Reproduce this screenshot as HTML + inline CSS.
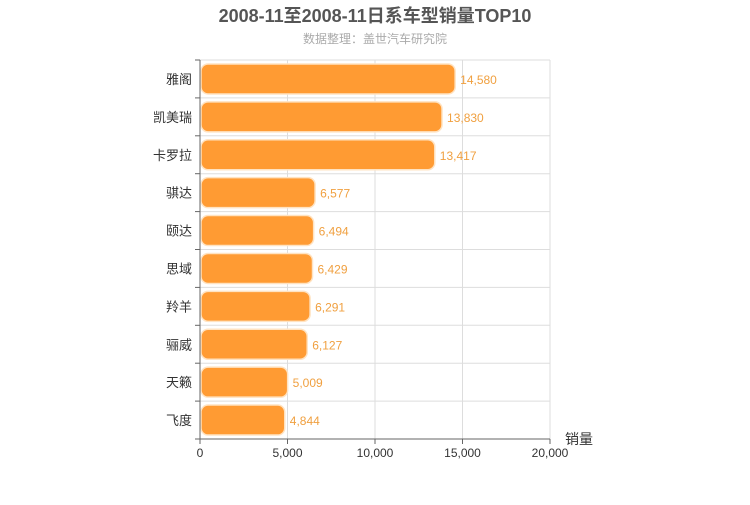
<!DOCTYPE html>
<html><head><meta charset="utf-8"><style>
body{margin:0;background:#fff;font-family:"Liberation Sans","Noto Sans CJK SC",sans-serif;}
</style></head><body>
<svg width="750" height="500" id="c" style="font-family:'Liberation Sans','Noto Sans CJK SC',sans-serif">
<text x="375" y="22" text-anchor="middle" font-size="18" font-weight="bold" fill="#555">2008-11至2008-11日系车型销量TOP10</text>
<text x="375" y="43" text-anchor="middle" font-size="12" fill="#aaa">数据整理：盖世汽车研究院</text>
<g id="grid"></g><g id="bars"></g><g id="axes"></g>
</svg>
<script>
const categories=["雅阁","凯美瑞","卡罗拉","骐达","颐达","思域","羚羊","骊威","天籁","飞度"];
const values=[14580,13830,13417,6577,6494,6429,6291,6127,5009,4844];
const ticks=[0,5000,10000,15000,20000];
const tickLabels=["0","5,000","10,000","15,000","20,000"];
const X0=200,X1=550,Y0=60,Y1=439,MAX=20000;
const ns="http://www.w3.org/2000/svg";
const x=v=>X0+(X1-X0)*v/MAX;
const rowH=(Y1-Y0)/categories.length;
function mk(t,a,p,txt){const e=document.createElementNS(ns,t);for(const k in a)e.setAttribute(k,a[k]);if(txt!==undefined)e.textContent=txt;p.appendChild(e);return e;}
const g=document.getElementById('grid'),b=document.getElementById('bars'),ax=document.getElementById('axes');
ticks.forEach((t,i)=>{
  const l=mk('line',{x1:x(t),x2:x(t),y1:Y0,y2:Y1,stroke:'#ddd'},g);
  
  
  const tk=mk('line',{x1:x(t),x2:x(t),y1:Y1,y2:Y1+5,stroke:'#666'},ax);
  
  
  const tx=mk('text',{x:x(t),y:Y1+18,'text-anchor':'middle','font-size':12,fill:'#333'},ax,tickLabels[i]);
  
  
});
for(let i=0;i<=categories.length;i++){
  const y=Y0+i*rowH;
  const l=mk('line',{x1:X0,x2:X1,y1:y,y2:y,stroke:'#ddd'},g);
  
  
  const tk=mk('line',{x1:X0-5,x2:X0,y1:y,y2:y,stroke:'#666'},ax);
  
  
}
categories.forEach((c,i)=>{
  const yc=Y0+(i+0.5)*rowH;
  const r=mk('rect',{x:X0+1,y:yc-15,width:x(values[i])-X0-1,height:30,rx:7,fill:'#ff9b33',stroke:'#ffe3c2','stroke-width':1.5},b);
  
  
  const v=mk('text',{x:x(values[i])+5,y:yc+5,'font-size':12,fill:'#f0a040'},b,values[i].toLocaleString('en-US'));
  
  
  const t=mk('text',{x:X0-8,y:yc+5,'text-anchor':'end','font-size':13,fill:'#333'},ax,c);
  
  
});
const ya=mk('line',{x1:X0,x2:X0,y1:Y0,y2:Y1,stroke:'#666'},ax);


const xa=mk('line',{x1:X0,x2:X1,y1:Y1,y2:Y1,stroke:'#666'},ax);


const xt=mk('text',{x:565,y:444,'font-size':14,fill:'#333'},ax,'销量');


</script>
</body></html>
